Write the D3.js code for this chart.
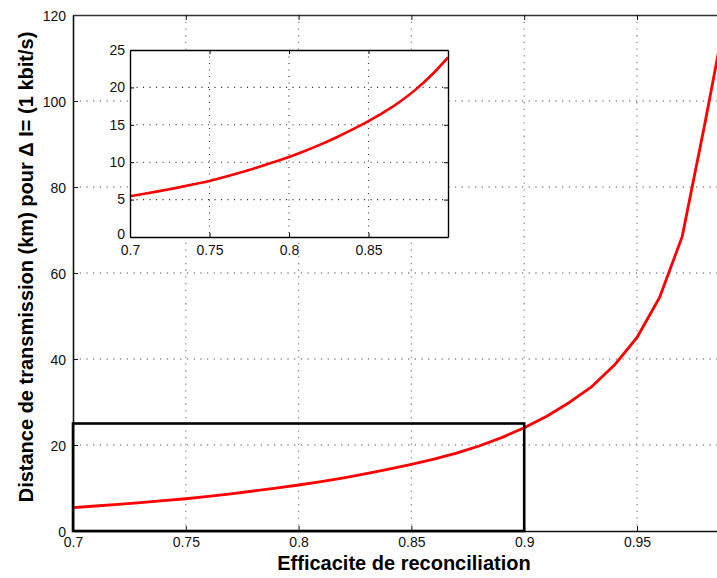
<!DOCTYPE html>
<html><head><meta charset="utf-8">
<script src="https://cdn.jsdelivr.net/npm/d3@7/dist/d3.min.js"></script>
<style>body{margin:0;background:#fff}svg{display:block}</style>
</head><body>
<script>
const efficiency = [0.70,0.71,0.72,0.73,0.74,0.75,0.76,0.77,0.78,0.79,0.80,0.81,0.82,0.83,0.84,0.85,0.86,0.87,0.88,0.89,0.90,0.91,0.92,0.93,0.94,0.95,0.96,0.97,0.98,0.99];
const distanceKm = [5.45,5.81,6.2,6.6,7.04,7.5,8.05,8.65,9.3,9.98,10.7,11.5,12.38,13.34,14.38,15.5,16.72,18.12,19.77,21.72,24.0,26.7,29.9,33.6,38.6,45.0,54.3,68.4,94.5,122];
const mainXTicks = [0.7,0.75,0.8,0.85,0.9,0.95];
const mainYTicks = [0,20,40,60,80,100,120];
const insetXTicks = [0.7,0.75,0.8,0.85];
const insetYTicks = [0,5,10,15,20,25];
const boxX = 0.9, boxY = 25;
const xLabel = "Efficacite de reconciliation";
const yLabel = "Distance de transmission (km) pour \u0394 I= (1 kbit/s)";

const W = 717, H = 578;
const data = efficiency.map((e,i)=>({x:e,y:distanceKm[i]}));
const svg = d3.select("body").append("svg").attr("width",W).attr("height",H)
  .style("font-family","'Liberation Sans', Arial, sans-serif");

// main axes
const M = {l:73, t:15, b:531};
const x = d3.scaleLinear().domain([0.7,1.0]).range([M.l, M.l + 0.3*2256]);
const y = d3.scaleLinear().domain([0,120]).range([M.b, M.t]);

svg.append("defs").append("clipPath").attr("id","mclip")
  .append("rect").attr("x",M.l).attr("y",M.t).attr("width",800).attr("height",M.b-M.t);
svg.append("defs").append("clipPath").attr("id","iclip")
  .append("rect").attr("x",130).attr("y",50).attr("width",318).attr("height",187);

const grid = svg.append("g").attr("stroke","#8c8c8c").attr("stroke-width",1.3).attr("stroke-dasharray","1.3,5.4");
mainXTicks.filter(v=>v>0.7).forEach(v=>{
  grid.append("line").attr("x1",x(v)).attr("x2",x(v)).attr("y1",M.t).attr("y2",M.b);
});
mainYTicks.filter(v=>v>0 && v<120).forEach(v=>{
  grid.append("line").attr("x1",M.l).attr("x2",W).attr("y1",y(v)).attr("y2",y(v));
});

// axes with d3 axis
const yAxis = svg.append("g").attr("transform",`translate(${M.l},0)`)
  .call(d3.axisLeft(y).tickValues(mainYTicks).tickFormat(d3.format("d")).tickSizeInner(-5).tickSizeOuter(0).tickPadding(7));
const xAxis = svg.append("g").attr("transform",`translate(0,${M.b})`)
  .call(d3.axisBottom(x).tickValues(mainXTicks).tickFormat(d=>String(+d.toFixed(2))).tickSizeInner(-5).tickSizeOuter(0).tickPadding(6));
const xTop = svg.append("g").attr("transform",`translate(0,${M.t})`)
  .call(d3.axisTop(x).tickValues(mainXTicks).tickFormat("").tickSizeInner(-5).tickSizeOuter(0));
[yAxis,xAxis,xTop].forEach(g=>{
  g.select(".domain").attr("stroke","#111").attr("stroke-width",1.6);
  g.selectAll(".tick line").attr("stroke","#111").attr("stroke-width",1);
  g.selectAll("text").attr("font-size",14).attr("fill","#111").attr("font-family","'Liberation Sans', Arial, sans-serif");
});
yAxis.selectAll("text").attr("dy","0.36em");
xAxis.selectAll("text").attr("dy","0.72em");
xTop.select(".domain").attr("stroke","#333").attr("stroke-width",1.3);

// main curve
const line = d3.line().x(d=>x(d.x)).y(d=>y(d.y));
svg.append("path").datum(data).attr("clip-path","url(#mclip)")
  .attr("d",line).attr("fill","none").attr("stroke","#ff0000").attr("stroke-width",2.8).attr("stroke-linejoin","round");

// highlight rectangle
svg.append("rect").attr("x",x(0.7)).attr("y",y(boxY))
  .attr("width",x(boxX)-x(0.7)).attr("height",y(0)-y(boxY))
  .attr("fill","none").attr("stroke","#000").attr("stroke-width",2.6);

// inset
const I = {l:130, r:448, t:50, b:237};
const xi = d3.scaleLinear().domain([0.7,0.9]).range([I.l,I.r]);
const yi = d3.scaleLinear().domain([0,25]).range([I.b,I.t]);
svg.append("rect").attr("x",I.l).attr("y",I.t).attr("width",I.r-I.l).attr("height",I.b-I.t).attr("fill","#fff");
const ig = svg.append("g").attr("stroke","#333").attr("stroke-width",1.1).attr("stroke-dasharray","1.1,5.4");
insetXTicks.filter(v=>v>0.7).forEach(v=>{
  ig.append("line").attr("x1",xi(v)).attr("x2",xi(v)).attr("y1",I.t).attr("y2",I.b);
});
insetYTicks.filter(v=>v>0 && v<25).forEach(v=>{
  ig.append("line").attr("x1",I.l).attr("x2",I.r).attr("y1",yi(v)).attr("y2",yi(v));
});
svg.append("path").datum(data.filter(d=>d.x<=0.9+1e-9)).attr("clip-path","url(#iclip)")
  .attr("d",d3.line().x(d=>xi(d.x)).y(d=>yi(d.y)).curve(d3.curveMonotoneX))
  .attr("fill","none").attr("stroke","#ff0000").attr("stroke-width",2.6);
const iy = svg.append("g").attr("transform",`translate(${I.l},0)`)
  .call(d3.axisLeft(yi).tickValues(insetYTicks).tickSizeInner(-4).tickSizeOuter(0).tickPadding(5));
const ix = svg.append("g").attr("transform",`translate(0,${I.b})`)
  .call(d3.axisBottom(xi).tickValues(insetXTicks).tickFormat(d=>String(+d.toFixed(2))).tickSizeInner(-4).tickSizeOuter(0).tickPadding(8));
const iyr = svg.append("g").attr("transform",`translate(${I.r},0)`)
  .call(d3.axisRight(yi).tickValues(insetYTicks).tickFormat("").tickSizeInner(-4).tickSizeOuter(0));
const ixt = svg.append("g").attr("transform",`translate(0,${I.t})`)
  .call(d3.axisTop(xi).tickValues(insetXTicks).tickFormat("").tickSizeInner(-4).tickSizeOuter(0));
[iy,ix,iyr,ixt].forEach(g=>{
  g.select(".domain").attr("stroke","#000").attr("stroke-width",1.4);
  g.selectAll(".tick line").attr("stroke","#000").attr("stroke-width",1);
  g.selectAll("text").attr("font-size",14).attr("fill","#111").attr("font-family","'Liberation Sans', Arial, sans-serif");
});
iy.selectAll("text").attr("dy","0.3em");
iy.selectAll(".tick").filter(d=>d===0).select("text").attr("dy","0.12em");
ix.selectAll("text").attr("dy","0.72em");

// labels
svg.append("text").attr("x",404).attr("y",570).attr("text-anchor","middle")
  .attr("font-size",20).attr("font-weight","bold").attr("fill","#000").text(xLabel);
svg.append("text").attr("transform","translate(33,267) rotate(-90)").attr("text-anchor","middle")
  .attr("font-size",20).attr("font-weight","bold").attr("fill","#000").text(yLabel);
</script>
</body></html>
